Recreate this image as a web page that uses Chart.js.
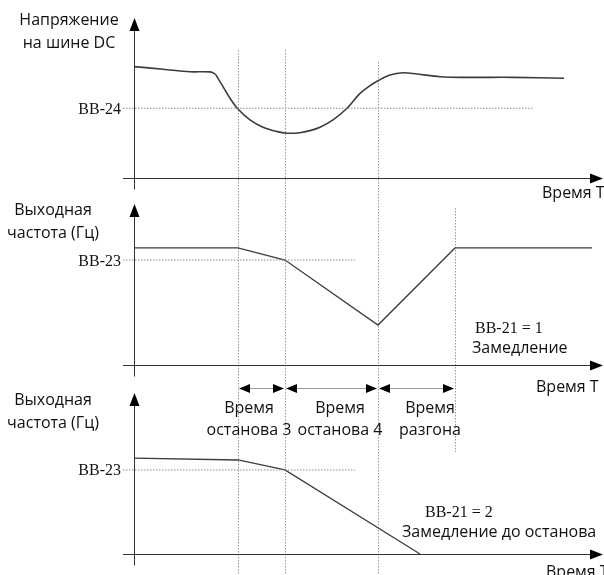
<!DOCTYPE html>
<html>
<head>
<meta charset="utf-8">
<script src="https://cdn.jsdelivr.net/npm/chart.js@4"></script>
<style>
  html, body { margin: 0; padding: 0; background: #fff; }
  #plot { display: block; }
</style>
</head>
<body>
<canvas id="plot" width="604" height="575"></canvas>
<script>
// ── Data ────────────────────────────────────
// one common time axis, 0 = where the vertical axes stand
const eventTimes = [10.4, 15.1, 24.4, 32.1];
const intervalLabels = [['Время', 'останова 3'], ['Время', 'останова 4'], ['Время', 'разгона']];

// panel 1: DC bus voltage
const busTime = [0, 2.9, 5.6, 7.6, 8.1, 8.4, 8.9, 9.6, 10.4, 11.6, 12.9, 14.3, 15.3, 16.6, 17.6, 18.6, 19.9, 21.3, 22.6, 23.5, 24.4, 25.6, 26.9, 28.3, 30.6, 33.3, 37.9, 43.0];
const busVoltage = [69.6, 68.0, 66.4, 66.3, 65.0, 62.3, 57.1, 49.8, 43.1, 36.3, 31.7, 29.0, 28.0, 28.3, 29.6, 31.7, 36.3, 43.6, 52.9, 57.3, 60.8, 64.4, 65.8, 65.0, 63.3, 62.9, 62.9, 62.3];
const bb24Level = 43.6;
const bb24Span = [-1.1, 40];

// panel 2: output frequency, BB-21 = 1
const decelTime = [0, 10.4, 15.1, 24.4, 32.1, 45.8];
const decelFreq = [72.7, 72.7, 65.2, 24.8, 72.7, 72.7];
const bb23LevelA = 65.2;

// panel 3: output frequency, BB-21 = 2
const stopTime = [0, 10.4, 15.1, 28.6];
const stopFreq = [59.6, 58.4, 52.2, 0];
const bb23LevelB = 52.2;
const bb23Span = [-1.1, 22.1];

// ── Layout ──────────────────────────────────

const H = 575;
// page y of the arrow tip (value 100) and of the time axis (value 0)
const panels = [
    { id: 'y1', tip: 18, zero: 178 },
    { id: 'y2', tip: 204, zero: 365 },
    { id: 'y3', tip: 393, zero: 554 }
];

function panelScale(p) {
    const k = (p.zero - p.tip) / 100;
    const min = (p.zero - H) / k;
    return { type: 'linear', display: false, min: min, max: min + H / k };
}

const pts = (xs, ys) => xs.map((x, i) => ({ x: x, y: ys[i] }));
const flat = (span, level) => span.map(x => ({ x: x, y: level }));

const SANS = '16px "Open Sans", "Noto Sans", sans-serif';
const SERIF = '16px "Liberation Serif", "DejaVu Serif", serif';

function solid(data, axis, width, tension) {
    return {
        data: data, yAxisID: axis,
        borderColor: '#3c3c3c', borderWidth: width,
        pointRadius: 0, fill: false,
        tension: tension
    };
}

function dotted(data, axis) {
    return {
        data: data, yAxisID: axis,
        borderColor: '#8c8c8c', borderWidth: 1,
        borderDash: [1.5, 1.5],
        pointRadius: 0, fill: false, tension: 0
    };
}

// ── Drawing helpers ─────────────────────────

function tri(ctx, x1, y1, x2, y2, x3, y3) {
    ctx.beginPath();
    ctx.moveTo(x1, y1); ctx.lineTo(x2, y2); ctx.lineTo(x3, y3);
    ctx.closePath();
    ctx.fill();
}

function text(ctx, str, x, y, font, align) {
    ctx.font = font;
    ctx.textAlign = align || 'left';
    ctx.fillText(str, x, y);
}

const diagram = {
    id: 'diagram',
    beforeDatasetsDraw(chart) {
        const ctx = chart.ctx;
        const xs = chart.scales.x;
        const x0 = xs.getPixelForValue(0);
        ctx.save();

        // time marks
        const spans = [[50, H], [50, H], [62, H], [208, 452]];
        ctx.strokeStyle = '#999';
        ctx.lineWidth = 1;
        ctx.setLineDash([1.5, 1.5]);
        eventTimes.forEach((t, i) => {
            const px = Math.round(xs.getPixelForValue(t)) + 0.5;
            ctx.beginPath();
            ctx.moveTo(px, spans[i][0]);
            ctx.lineTo(px, spans[i][1]);
            ctx.stroke();
        });
        ctx.setLineDash([]);

        // axes
        ctx.strokeStyle = '#333';
        ctx.fillStyle = '#000';
        panels.forEach(p => {
            const ys = chart.scales[p.id];
            const yz = Math.round(ys.getPixelForValue(0)) + 0.5;
            const yt = ys.getPixelForValue(100);
            const ax = Math.round(x0) + 0.5;
            ctx.beginPath();
            ctx.moveTo(ax, yt + 8);
            ctx.lineTo(ax, yz + 11);
            ctx.moveTo(chart.chartArea.left, yz);
            ctx.lineTo(chart.width - 8, yz);
            ctx.stroke();
            tri(ctx, ax, yt, ax - 5, yt + 13, ax + 5, yt + 13);
            tri(ctx, chart.width - 1, yz, chart.width - 14, yz - 5, chart.width - 14, yz + 5);
        });
        ctx.restore();
    },
    afterDraw(chart) {
        const ctx = chart.ctx;
        const xs = chart.scales.x;
        const y1 = chart.scales.y1, y2 = chart.scales.y2, y3 = chart.scales.y3;
        ctx.save();
        ctx.fillStyle = '#111';
        ctx.textBaseline = 'alphabetic';

        // axis titles
        text(ctx, 'Напряжение', 69, 25, SANS, 'center');
        text(ctx, 'на шине DC', 69, 48, SANS, 'center');
        text(ctx, 'Выходная', 53, 215, SANS, 'center');
        text(ctx, 'частота (Гц)', 53, 238, SANS, 'center');
        text(ctx, 'Выходная', 53, 405, SANS, 'center');
        text(ctx, 'частота (Гц)', 53, 428, SANS, 'center');

        // time axis names
        text(ctx, 'Время T', 542, 198, SANS);
        text(ctx, 'Время T', 536, 392, SANS);
        text(ctx, 'Время T', 546, 577, SANS);

        // threshold labels
        text(ctx, 'BB-24', 121, y1.getPixelForValue(bb24Level) + 5.5, SERIF, 'right');
        text(ctx, 'BB-23', 121, y2.getPixelForValue(bb23LevelA) + 5.5, SERIF, 'right');
        text(ctx, 'BB-23', 121, y3.getPixelForValue(bb23LevelB) + 5.5, SERIF, 'right');

        // mode notes
        text(ctx, 'BB-21 = 1', 475, 333, SERIF);
        text(ctx, 'Замедление', 472, 353, SANS);
        text(ctx, 'BB-21 = 2', 425, 517, SERIF);
        text(ctx, 'Замедление до останова', 402, 537, SANS);

        // interval arrows
        const ay = 388.5;
        ctx.strokeStyle = '#999';
        ctx.fillStyle = '#000';
        ctx.lineWidth = 1;
        for (let i = 0; i < eventTimes.length - 1; i++) {
            const a = xs.getPixelForValue(eventTimes[i]) + 1;
            const b = xs.getPixelForValue(eventTimes[i + 1]) - 1;
            ctx.beginPath();
            ctx.moveTo(a + 8, ay);
            ctx.lineTo(b - 8, ay);
            ctx.stroke();
            tri(ctx, a, ay, a + 11, ay - 4.5, a + 11, ay + 4.5);
            tri(ctx, b, ay, b - 11, ay - 4.5, b - 11, ay + 4.5);
        }
        ctx.fillStyle = '#111';
        const centers = [249, 340, 430];
        intervalLabels.forEach((lines, i) => {
            text(ctx, lines[0], centers[i], 413, SANS, 'center');
            text(ctx, lines[1], centers[i], 435, SANS, 'center');
        });
        ctx.restore();
    }
};

// ── Chart ───────────────────────────────────

new Chart(document.getElementById('plot'), {
    type: 'line',
    data: {
        datasets: [
            dotted(flat(bb24Span, bb24Level), 'y1'),
            dotted(flat(bb23Span, bb23LevelA), 'y2'),
            dotted(flat(bb23Span, bb23LevelB), 'y3'),
            solid(pts(busTime, busVoltage), 'y1', 1.6, 0.35),
            solid(pts(decelTime, decelFreq), 'y2', 1.3, 0),
            solid(pts(stopTime, stopFreq), 'y3', 1.3, 0)
        ]
    },
    options: {
        responsive: false,
        animation: false,
        devicePixelRatio: 1,
        layout: { padding: { left: 123, right: 4, top: 0, bottom: 0 } },
        scales: {
            x: { type: 'linear', display: false, min: -1.1, max: 46.6 },
            y1: panelScale(panels[0]),
            y2: panelScale(panels[1]),
            y3: panelScale(panels[2])
        },
        plugins: {
            legend: { display: false },
            tooltip: { enabled: false }
        }
    },
    plugins: [diagram]
});
</script>
</body>
</html>
